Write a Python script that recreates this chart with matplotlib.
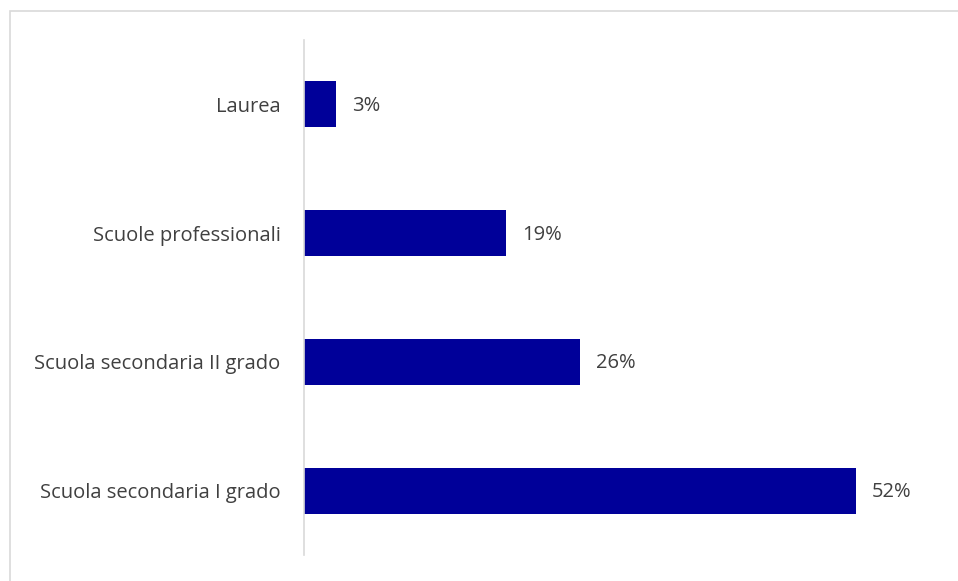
import matplotlib
matplotlib.use("Agg")
import matplotlib.pyplot as plt
from matplotlib.patches import Rectangle

categories = ["Laurea", "Scuole professionali", "Scuola secondaria II grado", "Scuola secondaria I grado"]
values = [3, 19, 26, 52]
value_labels = ["3%", "19%", "26%", "52%"]

plt.rcParams["font.family"] = ["Open Sans", "DejaVu Sans"]

W, H = 958, 581
fig = plt.figure(figsize=(W / 100, H / 100), dpi=100)

# light frame around the chart area
fig.add_artist(Rectangle((9.5 / W, -0.1), 1.2, 1 - 10.5 / H + 0.1,
                         transform=fig.transFigure, fill=False,
                         edgecolor="#d9d9d9", linewidth=1.2))

left, right = 304 / W, 941 / W
top, bottom = 1 - 40 / H, 1 - 555 / H
ax = fig.add_axes([left, bottom, right - left, top - bottom])

y = list(range(len(categories)))
ax.barh(y, values, height=0.357, color="#000099", edgecolor="#000099", linewidth=0)
ax.set_xlim(0, 60)
ax.set_ylim(len(categories) - 0.5, -0.5)

for yi, v, lab in zip(y, values, value_labels):
    ax.annotate(lab, (v, yi), xytext=(11.5, -1), textcoords="offset points",
                va="center", ha="left", fontsize=14.5, color="#404040")

ax.set_yticks(y)
ax.set_yticklabels(categories, fontsize=14.5, color="#404040")
ax.tick_params(axis="y", length=0, pad=17)
for lbl in ax.get_yticklabels():
    lbl.set_y(lbl.get_position()[1])
ax.set_xticks([])
for s in ["top", "right", "bottom"]:
    ax.spines[s].set_visible(False)
ax.spines["left"].set_color("#d9d9d9")
ax.spines["left"].set_linewidth(1.2)

fig.savefig("out.png", dpi=100)
